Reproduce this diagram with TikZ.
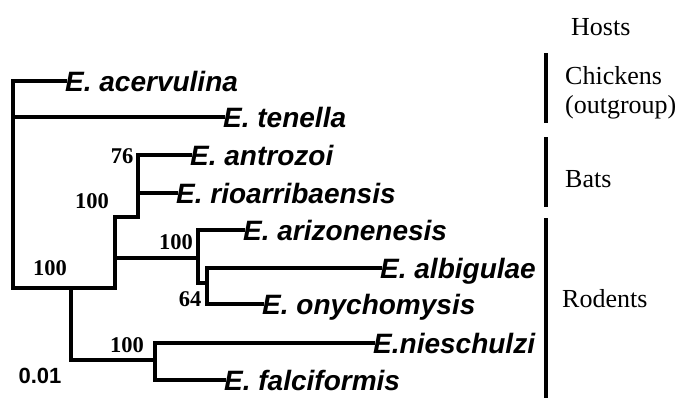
\documentclass[tikz,border=0pt]{standalone}
\usepackage{fontspec}
\setmainfont{Liberation Serif}
\setsansfont{Liberation Sans}
\begin{document}
\begin{tikzpicture}[x=1pt,y=-1pt,
  branch/.style={line width=3.2pt, line cap=rect},
  taxon/.style={font=\sffamily\bfseries\itshape\fontsize{28}{28}\selectfont, anchor=west, inner sep=0pt, text height=20pt, text depth=0pt},
  boot/.style={font=\bfseries\fontsize{22.5}{22.5}\selectfont, inner sep=0pt, text height=15pt, text depth=0pt},
  host/.style={font=\fontsize{26}{29}\selectfont, anchor=base west, inner sep=0pt},
  bar/.style={line width=3.4pt}]
\useasboundingbox (0,0) rectangle (686,402);

% taxa
\node[taxon] (acer) at (65,81) {E. acervulina};
\node[taxon] (ten)  at (223,117) {E. tenella};
\node[taxon] (antr) at (190,155) {E. antrozoi};
\node[taxon] (rio)  at (176,193) {E. rioarribaensis};
\node[taxon] (ariz) at (243,230) {E. arizonenesis};
\node[taxon] (albi) at (380,268) {E. albigulae};
\node[taxon] (ony)  at (262,304) {E. onychomysis};
\node[taxon] (nies) at (373,343) {E.nieschulzi};
\node[taxon] (falc) at (224,380) {E. falciformis};

% internal nodes
\coordinate (n0) at (13,185);
\coordinate (n1) at (71,288);
\coordinate (n2) at (115,217);
\coordinate (n3) at (138,173);
\coordinate (n4) at (198,258);
\coordinate (n5) at (207,283);
\coordinate (n6) at (155,360);

\draw[branch] (acer.west) -| (n0) |- (n1);
\draw[branch] (n0) |- (ten.west);
\draw[branch] (n2) |- (n1) |- (n6);
\draw[branch] (n3) |- (n2) |- (n4);
\draw[branch] (antr.west) -| (n3) |- (rio.west);
\draw[branch] (ariz.west) -| (n4) |- (n5);
\draw[branch] (albi.west) -| (n5) |- (ony.west);
\draw[branch] (nies.west) -| (n6) |- (falc.west);

% bootstrap values
\node[boot] (b76)  at (122,156) {76};
\node[boot] (b2)   at (92,201) {100};
\node[boot] (b1)   at (50,268) {100};
\node[boot] (b4)   at (176,242) {100};
\node[boot] (b64)  at (190,299) {64};
\node[boot] (b6)   at (127,345) {100};
\node[font=\sffamily\bfseries\fontsize{22}{22}\selectfont, inner sep=0pt, text height=16pt, text depth=0pt] (scale) at (40,375) {0.01};

% hosts
\node[host] (hosts) at (571,35) {Hosts};
\coordinate (c1) at (546,53);  \coordinate (c2) at (546,123);
\coordinate (t1) at (546,137); \coordinate (t2) at (546,207);
\coordinate (r1) at (546,218); \coordinate (r2) at (546,398);
\draw[bar] (c1) -- (c2);
\draw[bar] (t1) -- (t2);
\draw[bar] (r1) -- (r2);
\node[host] (chick) at (565,84) {Chickens};
\node[host] (outg)  at (565,113) {(outgroup)};
\node[host] (bats)  at (565,187) {Bats};
\node[host] (rod)   at (562,307) {Rodents};
\end{tikzpicture}
\end{document}
